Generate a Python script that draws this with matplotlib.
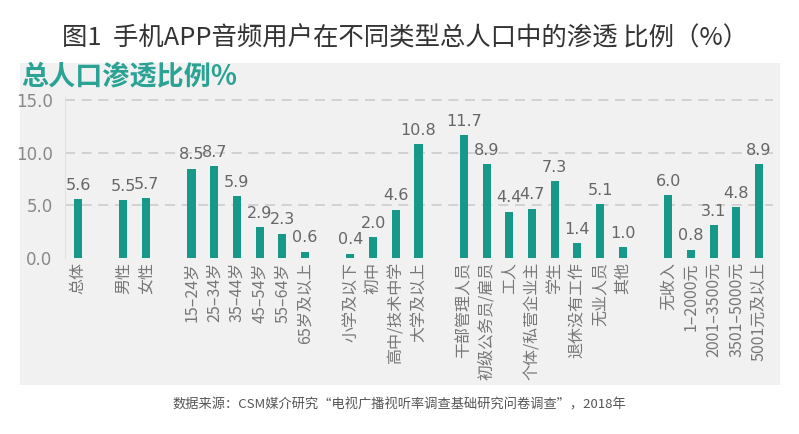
import numpy as np
import matplotlib.pyplot as plt
from matplotlib.patches import Rectangle

plt.rcParams['font.family'] = ['Noto Sans CJK SC', 'DejaVu Sans']

# data
categories = ["总体", "", "男性", "女性", "",
              "15–24岁", "25–34岁", "35–44岁", "45–54岁", "55–64岁", "65岁及以上", "",
              "小学及以下", "初中", "高中/技术中学", "大学及以上", "",
              "干部管理人员", "初级公务员/雇员", "工人", "个体/私营企业主", "学生",
              "退休没有工作", "无业人员", "其他", "",
              "无收入", "1–2000元", "2001–3500元", "3501–5000元", "5001元及以上"]
values = [5.6, None, 5.5, 5.7, None,
          8.5, 8.7, 5.9, 2.9, 2.3, 0.6, None,
          0.4, 2.0, 4.6, 10.8, None,
          11.7, 8.9, 4.4, 4.7, 7.3, 1.4, 5.1, 1.0, None,
          6.0, 0.8, 3.1, 4.8, 8.9]
y_ticks = [0, 5, 10, 15]

teal = "#17998a"

fig = plt.figure(figsize=(7.99, 4.34), dpi=100)
fig.patch.set_facecolor("white")

# gray panel behind the chart
fig.add_artist(Rectangle((0.025, 0.113), 0.951, 0.742, transform=fig.transFigure,
                         facecolor="#f1f1f1", edgecolor="none", zorder=0))

ax = fig.add_axes([0.0814, 0.4055, 0.8856, 0.371])
ax.set_facecolor("none")

x = np.arange(len(categories))
for i, v in enumerate(values):
    if v is None:
        continue
    ax.bar(i, v, width=0.36, color=teal, zorder=3)
    ax.text(i, v + 0.6, f"{v:.1f}", ha="center", va="bottom", fontsize=11.5,
            color="#666666", family="DejaVu Sans")

ax.set_xlim(-0.57, len(categories) - 0.4)
ax.set_ylim(0, 15.3)
ax.set_yticks(y_ticks)
ax.set_yticklabels([f"{t:.1f}" for t in y_ticks], family="DejaVu Sans")
ax.tick_params(axis="y", length=0, labelsize=12, labelcolor="#888888", pad=9)
for t in y_ticks[1:]:
    ax.axhline(t, color="#cccccc", linewidth=1.2, linestyle=(0, (6, 4)), zorder=1)

labeled = [i for i, c in enumerate(categories) if c]
ax.set_xticks(labeled)
ax.set_xticklabels([categories[i] for i in labeled], rotation=90, fontsize=11.5,
                   color="#777777")
ax.tick_params(axis="x", length=0, pad=3)

for s in ["top", "right", "bottom"]:
    ax.spines[s].set_visible(False)
ax.spines["left"].set_color("#e0e0e0")

fig.text(0.507, 0.912, "图1  手机APP音频用户在不同类型总人口中的渗透 比例（%）",
         ha="center", va="center", fontsize=18.3, color="#333333", fontweight="light")
fig.text(0.027, 0.822, "总人口渗透比例%", ha="left", va="center", fontsize=19.5,
         color="#2aa394", fontweight="black")
fig.text(0.5, 0.067, "数据来源：CSM媒介研究“电视广播视听率调查基础研究问卷调查”，2018年",
         ha="center", va="center", fontsize=9.5, color="#555555")

fig.savefig("out.png", dpi=100)
